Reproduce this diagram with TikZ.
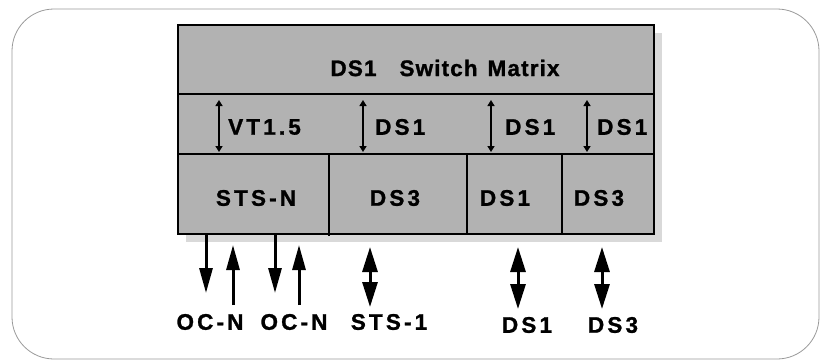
\documentclass[tikz,border=0pt]{standalone}
\usepackage{fontspec}
\setmainfont{Liberation Sans}
\newfontfamily\widefont[LetterSpace=14,FakeBold=1.2]{Liberation Sans Bold}
\newfontfamily\titlefont[LetterSpace=5,FakeBold=1.2]{Liberation Sans Bold}
\usetikzlibrary{arrows.meta,positioning}

\begin{document}
\begin{tikzpicture}[x=1pt,y=-1pt,
  lbl/.style={font=\widefont\fontsize{22.5}{26}\selectfont,inner sep=0pt},
  thin2way/.style={line width=2pt,{Triangle[length=6pt,width=7pt]}-{Triangle[length=6pt,width=7pt]}},
  fat1way/.style={line width=3pt,-{Triangle[length=25pt,width=13pt]}},
  fat2way/.style={line width=3pt,{Triangle[length=25pt,width=15pt]}-{Triangle[length=25pt,width=15pt]}}]
\useasboundingbox (0,0) rectangle (822,360);
% frame
\draw[black!40,line width=0.8pt,rounded corners=42pt] (12,9) rectangle (819,359);
% switch box with shadow
\fill[black!15] (186,33) rectangle (662,242);
\draw[line width=1.8pt,fill=black!30] (178,25) rectangle (654,234);
\draw[line width=1.8pt]
(178,94) -- (654,94)
(178,154) -- (654,154)
(329,154) -- (329,236)
(467,154) -- (467,234)
(562,154) -- (562,234);
\node[font=\titlefont\fontsize{22.5}{26}\selectfont,inner sep=0pt] (title) at (445,68)
  {DS1\hspace{23pt}Switch\hspace{10pt}Matrix};
% middle row
\node[lbl,anchor=west] (vt) at (228,127) {VT1.5};
\node[lbl,anchor=west] (dsa) at (375,127) {DS1};
\node[lbl,anchor=west] (dsb) at (505,127) {DS1};
\node[lbl,anchor=west] (dsc) at (597,127) {DS1};
\coordinate (m1t) at (219,100); \coordinate (m1b) at (219,152);
\coordinate (m2t) at (363,100); \coordinate (m2b) at (363,152);
\coordinate (m3t) at (491,100); \coordinate (m3b) at (491,152);
\coordinate (m4t) at (587,100); \coordinate (m4b) at (587,152);
\draw[thin2way] (m1t) -- (m1b);
\draw[thin2way] (m2t) -- (m2b);
\draw[thin2way] (m3t) -- (m3b);
\draw[thin2way] (m4t) -- (m4b);
% bottom row
\node[lbl] (stsn) at (256,198) {STS-N};
\node[lbl] (ds3a) at (395,198) {DS3};
\node[lbl] (ds1a) at (505,198) {DS1};
\node[lbl] (ds3b) at (599,198) {DS3};
% ports
\node[lbl] (ocn1) at (210,322) {OC-N};
\node[lbl] (ocn2) at (294,322) {OC-N};
\node[lbl] (sts1) at (389,322) {STS-1};
\node[lbl] (ds1b) at (527,325) {DS1};
\node[lbl] (ds3c) at (613,325) {DS3};
\coordinate (b1t) at (206,234); \coordinate (b1b) at (206,293);
\coordinate (b2t) at (233,245); \coordinate (b2b) at (233,305);
\coordinate (b3t) at (275,234); \coordinate (b3b) at (275,293);
\coordinate (b4t) at (299,245); \coordinate (b4b) at (299,305);
\coordinate (b5t) at (370,247); \coordinate (b5b) at (370,307);
\coordinate (b6t) at (518,247); \coordinate (b6b) at (518,309);
\coordinate (b7t) at (602,247); \coordinate (b7b) at (602,309);
\draw[fat1way] (b1t) -- (b1b);
\draw[fat1way] (b2b) -- (b2t);
\draw[fat1way] (b3t) -- (b3b);
\draw[fat1way] (b4b) -- (b4t);
\draw[fat2way] (b5t) -- (b5b);
\draw[fat2way] (b6t) -- (b6b);
\draw[fat2way] (b7t) -- (b7b);
\end{tikzpicture}
\end{document}
